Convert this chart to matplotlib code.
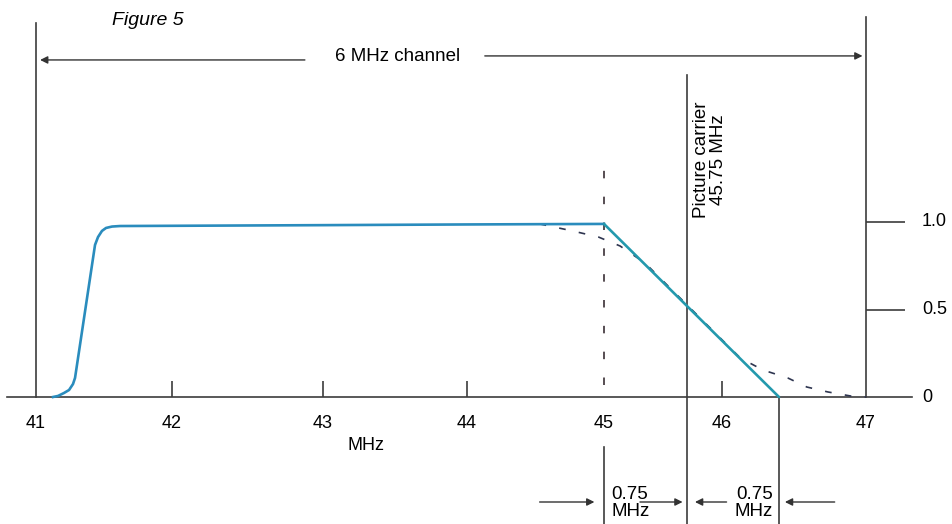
import matplotlib
matplotlib.use('Agg')
import matplotlib.pyplot as plt
import numpy as np

plt.rcParams['font.family'] = ['Liberation Sans', 'DejaVu Sans']

# frequency ticks (MHz) and right-hand response ticks
freq_ticks = [41, 42, 43, 44, 45, 46, 47]
minor_freq_ticks = [42, 43, 44, 46]
resp_ticks = [1.0, 0.5, 0]
resp_labels = ['1.0', '0.5', '0']

# IF passband response (solid curve): rise + flat top
curve_mhz = [41.125, 41.162, 41.206, 41.243, 41.272, 41.287, 41.434, 41.456,
             41.485, 41.515, 41.559, 41.618, 43.0, 44.0, 45.0]
curve_resp = [0.0, 0.006, 0.023, 0.04, 0.074, 0.109, 0.869, 0.914,
              0.949, 0.966, 0.974, 0.977, 0.982, 0.986, 0.989]
# Nyquist slope
slope_mhz = [45.0, 46.5]
slope_resp = [0.989, 0.0]

# ideal (rounded) response (dashed curve)
ideal_mhz = [44.53, 44.77, 44.96, 45.145, 45.37, 46.16, 46.36, 46.55,
             46.66, 46.78, 46.91, 47.0]
ideal_resp = [0.989, 0.949, 0.914, 0.863, 0.766, 0.223, 0.154, 0.109,
              0.057, 0.029, 0.006, 0.0]

picture_carrier = 45.75
band_edge = 46.5

# the drawing is not to scale: map MHz onto drawing position piecewise
mhz_knots = [40, 41, 42, 43, 44, 45, 45.75, 46, 46.5, 47, 48]
draw_knots = [-100, 36, 172, 323, 467, 604, 687, 722, 779, 866, 1010]


def forward(x):
    return np.interp(x, mhz_knots, draw_knots)


def inverse(p):
    return np.interp(p, draw_knots, mhz_knots)


line_col = '#3c3c3c'
curve_col = '#2a8cbd'
slope_col = '#2399ad'
dash_col = '#2e3550'

fig = plt.figure(figsize=(9.52, 5.24), dpi=100)
ax = fig.add_axes([0, 0, 1, 1])
ax.set_xscale('function', functions=(forward, inverse))
ax.set_xlim(inverse(0), inverse(952))
ax.set_ylim(-127 / 175, 1 + 222 / 175)
ax.axis('off')

# baseline and frame lines
ax.plot([40.79, 47.32], [0, 0], color=line_col, lw=1.2)
ax.plot([41, 41], [0, 2.14], color=line_col, lw=1.2)
ax.plot([47, 47], [0, 2.17], color=line_col, lw=1.2)
ax.plot([picture_carrier, picture_carrier], [-0.73, 1.84], color=line_col, lw=1.2)
ax.plot([band_edge, band_edge], [-0.73, 0], color=line_col, lw=1.2)
ax.plot([45, 45], [-0.73, -0.286], color=line_col, lw=1.2)
ax.plot([45, 45], [0.069, 1.354], color='#3a2f35', lw=1.2, dashes=[4.5, 11])

# small ticks
ax.vlines(minor_freq_ticks, 0, 0.09, color=line_col, lw=1.2)
ax.hlines(resp_ticks[:2], 47, 47.271, color=line_col, lw=1.2)

# curves
ax.plot(ideal_mhz, ideal_resp, color=dash_col, lw=1.2, dashes=[4, 8])
ax.plot(curve_mhz, curve_resp, color=curve_col, lw=1.9, solid_joinstyle='round')
ax.plot(slope_mhz, slope_resp, color=slope_col, lw=1.9, solid_capstyle='round')

# tick labels
for f in freq_ticks:
    ax.text(f, -0.151, str(f), ha='center', va='center', fontsize=13)
for r, lab in zip(resp_ticks, resp_labels):
    ax.text(47.389, r, lab, ha='left', va='center', fontsize=13)
ax.text(43.3, -0.28, 'MHz', ha='center', va='center', fontsize=13)

ax.text(41.56, 2.154, 'Figure 5', ha='left', va='center', fontsize=14,
        style='italic')

# 6 MHz channel arrows
ax.text(43.52, 1.943, '6 MHz channel', ha='center', va='center', fontsize=13.5)
arrow = dict(arrowstyle='-|>', color='#333333', lw=1.0, mutation_scale=11,
             shrinkA=0, shrinkB=0)
ax.annotate('', xy=(41.03, 1.926), xytext=(42.88, 1.926), arrowprops=arrow)
ax.annotate('', xy=(46.98, 1.949), xytext=(44.13, 1.949), arrowprops=arrow)

# picture carrier label
ax.text(45.793, 1.354, 'Picture carrier\n45.75 MHz', rotation=90,
        ha='left', va='center', multialignment='center', fontsize=13.5,
        linespacing=1.0)

# 0.75 MHz spacing markers
ax.annotate('', xy=(44.93, -0.6), xytext=(44.53, -0.6), arrowprops=arrow)
ax.annotate('', xy=(45.71, -0.6), xytext=(45.325, -0.6), arrowprops=arrow)
ax.annotate('', xy=(45.807, -0.6), xytext=(46.04, -0.6), arrowprops=arrow)
ax.annotate('', xy=(46.534, -0.6), xytext=(46.82, -0.6), arrowprops=arrow)
ax.text(45.07, -0.606, '0.75\nMHz', ha='left', va='center', fontsize=13.5,
        linespacing=1.05)
ax.text(46.447, -0.606, '0.75\nMHz', ha='right', va='center', fontsize=13.5,
        multialignment='right', linespacing=1.05)

fig.savefig('out.png', dpi=100)
